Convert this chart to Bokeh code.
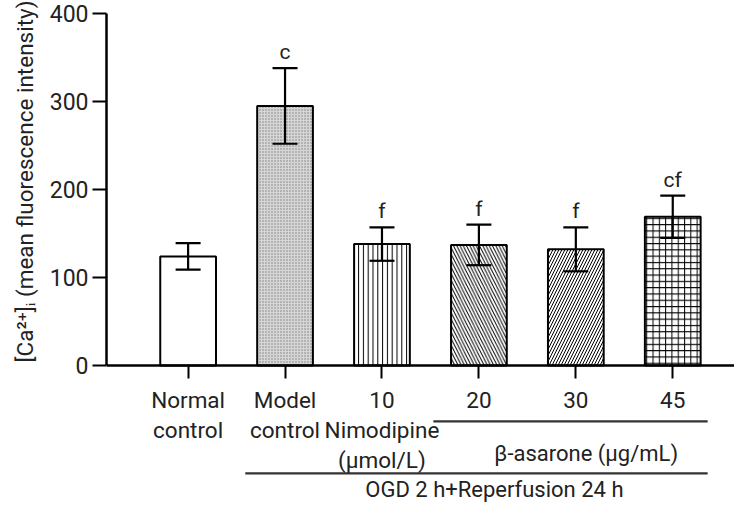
from bokeh.plotting import figure
from bokeh.models import ColumnDataSource, FixedTicker, Whisker, TeeHead, Title
from bokeh.core.properties import value
from bokeh.embed import file_html
from bokeh.resources import INLINE

# ---- data ----
tick_labels = ["Normal\ncontrol", "Model\ncontrol", "10\nNimodipine\n(\u03bcmol/L)", "20", "30", "45"]
means = [124, 295, 138, 137, 132, 169]
errors = [15, 43, 19, 23, 25, 24]
letters = ["", "c", "f", "f", "f", "cf"]
y_ticks = [0, 100, 200, 300, 400]
asarone_label = "\u03b2-asarone (\u03bcg/mL)"
ogd_label = "OGD 2 h+Reperfusion 24 h"
y_label = "[Ca\u00b2\u207a]\u1d62 (mean fluorescence intensity)"

# ---- styles ----
FONT = "Roboto"
TXT = "#222222"
fills = ["white", "#d6d6d6", "white", "white", "white", "white"]
hatch_colors = ["black", "#808080", "black", "black", "black", "black"]
hatches = [" ", "dot", "vertical_line", "left_diagonal_line", "right_diagonal_line", "cross"]
hatch_scales = [6, 3, 4.8, 6.5, 6, 6.3]

xs = list(range(len(means)))
upper = [m + e for m, e in zip(means, errors)]
lower = [m - e for m, e in zip(means, errors)]

src = ColumnDataSource(dict(x=xs, top=means, upper=upper, lower=lower, letter=letters,
                            fill=fills, hatch=hatches, hscale=hatch_scales, hcolor=hatch_colors))

X0, X1 = -0.842, 5.637
Y0, Y1 = -155.7, 414.8
p = figure(width=734, height=502, x_range=(X0, X1), y_range=(Y0, Y1),
           output_backend="svg", toolbar_location=None,
           min_border_left=103, min_border_right=0, min_border_top=0, min_border_bottom=0)
p.outline_line_color = None
p.xgrid.visible = False
p.ygrid.visible = False
p.background_fill_color = "white"
p.border_fill_color = "white"

p.vbar(x="x", top="top", bottom=0, width=0.575, source=src,
       fill_color="fill", line_color="black", line_width=2,
       hatch_pattern="hatch", hatch_scale="hscale", hatch_color="hcolor", hatch_weight=1)

w = Whisker(base="x", upper="upper", lower="lower", source=src, line_width=2.2, line_color="black",
            upper_head=TeeHead(size=25, line_width=2.2, line_color="black"),
            lower_head=TeeHead(size=25, line_width=2.2, line_color="black"), level="overlay")
p.add_layout(w)

p.text(x="x", y="upper", text="letter", source=src, y_offset=-4,
       text_baseline="bottom", text_align="center", text_color=TXT,
       text_font=value(FONT), text_font_size="21px")

# x axis at y=0
xa = p.xaxis[0]
xa.fixed_location = 0
xa.ticker = FixedTicker(ticks=xs)
xa.major_label_overrides = {i: lab for i, lab in enumerate(tick_labels)}
xa.axis_line_width = 2.5
xa.axis_line_color = "black"
xa.major_tick_in = 0
xa.major_tick_out = 13
xa.major_tick_line_width = 2
xa.major_tick_line_color = "black"
xa.minor_tick_line_color = None
xa.major_label_text_font = FONT
xa.major_label_text_font_size = "22.5px"
xa.major_label_text_color = TXT
xa.major_label_text_line_height = 1.15
xa.major_label_standoff = 9

ya = p.yaxis[0]
ya.bounds = (0, 400)
ya.ticker = FixedTicker(ticks=y_ticks)
ya.axis_line_width = 2.5
ya.axis_line_color = "black"
ya.major_tick_in = 0
ya.major_tick_out = 14
ya.major_tick_line_width = 2
ya.major_tick_line_color = "black"
ya.minor_tick_line_color = None
ya.major_label_text_font = FONT
ya.major_label_text_font_size = "23px"
ya.major_label_text_color = TXT
ya.major_label_standoff = 4

# y axis title (top-aligned, like the reference)
p.add_layout(Title(text=y_label, align="right", text_font=FONT, text_font_size="22.5px",
                   text_font_style="normal", text_color=TXT, standoff=18, offset=0), "left")

# group brackets (category index spans)
bracket_x0 = [3 - 0.47, 1 - 0.41]
bracket_x1 = [5 + 0.36, 5 + 0.36]
bracket_y = [-63.6, -122.7]
p.segment(x0=bracket_x0, x1=bracket_x1, y0=bracket_y, y1=bracket_y, line_color="#333333", line_width=2.2)

p.text(x=[4.107, 3.16], y=[-100, -140.9], text=[asarone_label, ogd_label],
       text_align="center", text_baseline="middle", text_color=TXT,
       text_font=value(FONT), text_font_size="22px")

open("out.html", "w").write(file_html(p, INLINE))
